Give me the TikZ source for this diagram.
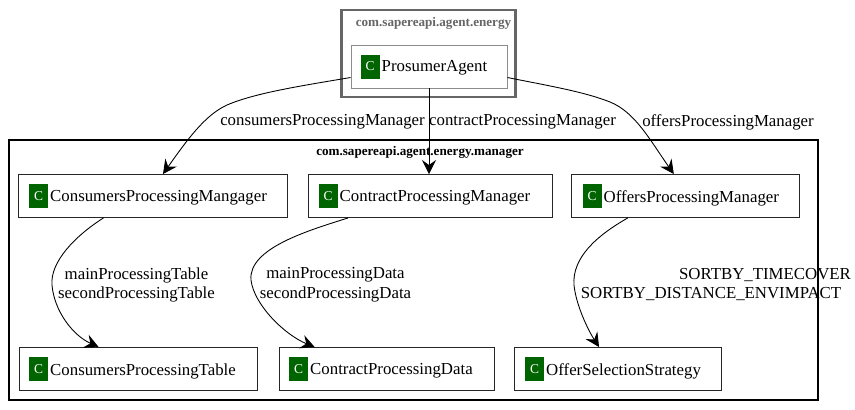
\documentclass[tikz,border=0pt]{standalone}
\usepackage{fontspec}
\setmainfont{Liberation Serif}
\usetikzlibrary{arrows.meta, calc}
\definecolor{iconColor}{HTML}{006400}
\definecolor{agentFrame}{HTML}{666666}
\definecolor{agentLine}{HTML}{8C8C8C}

\begin{document}
\begin{tikzpicture}[
    x=0.03cm, y=-0.03cm,
    % Box Styles
    classBox/.style={
        draw=black!85,
        line width=0.8pt,
        fill=white,
        inner sep=0pt,
        minimum height=1.29cm
    },
    iconBox/.style={
        fill=iconColor,
        text=white,
        font=\fontsize{11.5}{11.5}\selectfont,
        inner sep=0pt,
        minimum width=0.57cm,
        minimum height=0.72cm
    },
    classText/.style={
        anchor=west,
        inner sep=0pt,
        font=\fontsize{14.35}{14.35}\selectfont
    },
    % Cluster Styles
    clusterBox/.style={
        draw=black,
        line width=2.1pt,
        inner sep=0pt
    },
    clusterText/.style={
        inner sep=0pt,
        font=\fontsize{11.2}{11.2}\selectfont\bfseries
    },
    % Line Styles
    connector/.style={
        -{Stealth[length=0.42cm, width=0.42cm, inset=0.15cm]},
        line width=0.75pt,
        color=black
    },
    % Text Styles
    edgeText/.style={
        inner sep=0pt,
        font=\fontsize{14.35}{14.35}\selectfont
    }
]
    \useasboundingbox (0,0) rectangle (855,409);
    \fill[white] (0,0) rectangle (855,409);

    % --- CLUSTERS ---
    \node[clusterBox, draw=agentFrame, line width=2.5pt, minimum width=5.22cm, minimum height=2.61cm] (agentPkg) at (428.75,53.5) {};
    \node[clusterText, text=agentFrame] (agentPkgText) at (433.5,23) {com.sapereapi.agent.energy};

    \node[clusterBox, minimum width=24.27cm, minimum height=7.8cm] (managerPkg) at (413.5,270) {};
    \node[clusterText] (managerPkgText) at (420,152) {com.sapereapi.agent.energy.manager};

    % --- TOP CLASS ---
    \node[classBox, draw=agentLine, minimum width=4.68cm] (prosumer) at (429,66.5) {};
    \node[iconBox] (prosumerIcon) at (370,66.5) {C};
    \node[classText] (prosumerText) at (381.5,68) {ProsumerAgent};

    % --- MANAGER ROW ---
    \node[classBox, minimum width=8.055cm] (consumers) at (152.75,196) {};
    \node[iconBox] (consumersIcon) at (38.5,196) {C};
    \node[classText] (consumersText) at (50,198) {ConsumersProcessingMangager};

    \node[classBox, minimum width=7.32cm] (contract) at (430,196) {};
    \node[iconBox] (contractIcon) at (328,196) {C};
    \node[classText] (contractText) at (339.5,198) {ContractProcessingManager};

    \node[classBox, minimum width=6.84cm] (offers) at (685,196) {};
    \node[iconBox] (offersIcon) at (592,196) {C};
    \node[classText] (offersText) at (603.5,198) {OffersProcessingManager};

    % --- DATA ROW ---
    \node[classBox, minimum width=7.155cm] (table) at (138.25,369) {};
    \node[iconBox] (tableIcon) at (38.5,369) {C};
    \node[classText] (tableText) at (50,371) {ConsumersProcessingTable};

    \node[classBox, minimum width=6.45cm] (data) at (386.5,369) {};
    \node[iconBox] (dataIcon) at (298.5,369) {C};
    \node[classText] (dataText) at (310,371) {ContractProcessingData};

    \node[classBox, minimum width=6.21cm] (strategy) at (617.5,369) {};
    \node[iconBox] (strategyIcon) at (534.5,369) {C};
    \node[classText] (strategyText) at (546,371) {OfferSelectionStrategy};

    % --- CONNECTIONS ---
    \draw[connector] (prosumer.188) .. controls (300,86) and (255,93) .. (227,105) .. controls (205,115) and (187,140) .. (consumers.65);
    \draw[connector] (prosumer.south) -- (contract.north -| prosumer.south);
    \draw[connector] (prosumer.352) .. controls (550,86) and (585,92) .. (610,102) .. controls (635,112) and (650,140) .. (offers.117);

    \draw[connector] (consumers.204) .. controls (75,236) and (50,262) .. (52,285) .. controls (54,310) and (72,335) .. (table.151);
    \draw[connector] (contract.195) .. controls (310,230) and (248,248) .. (251,280) .. controls (254,305) and (285,335) .. (data.163);
    \draw[connector] (offers.201) .. controls (596,236) and (572,258) .. (574,285) .. controls (576,305) and (588,330) .. (strategy.130);

    % --- EDGE LABELS ---
    \node[edgeText] (consumersLabel) at (322.5,122) {consumersProcessingManager};
    \node[edgeText] (contractLabel) at (522.5,122) {contractProcessingManager};
    \node[edgeText] (offersLabel) at (728,122) {offersProcessingManager};

    \node[edgeText] (mainTable) at (136.5,275) {mainProcessingTable};
    \node[edgeText] (secondTable) at (136.5,294) {secondProcessingTable};
    \node[edgeText] (mainData) at (335.5,275) {mainProcessingData};
    \node[edgeText] (secondData) at (335.5,294) {secondProcessingData};
    \node[edgeText] (sortTime) at (765,275) {SORTBY\_TIMECOVER};
    \node[edgeText] (sortDistance) at (711,294) {SORTBY\_DISTANCE\_ENVIMPACT};
\end{tikzpicture}
\end{document}
